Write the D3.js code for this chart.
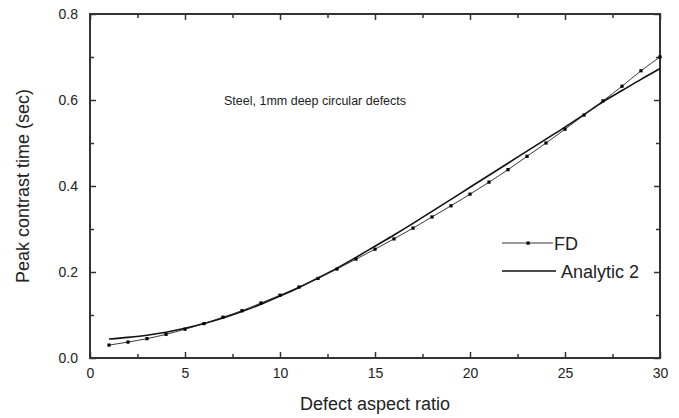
<!DOCTYPE html>
<html>
<head>
<meta charset="utf-8">
<script src="https://cdn.jsdelivr.net/npm/d3@7"></script>
<style>
  html, body { margin: 0; padding: 0; background: #fff; }
  svg { display: block; font-family: "Liberation Sans", Arial, sans-serif; }
</style>
</head>
<body>
<svg id="chart" width="679" height="418"></svg>
<script>
// Defect aspect ratios
const aspectRatio = d3.range(1, 31);
// Finite-difference peak contrast times (sec)
const fdValues = [0.030, 0.037, 0.045, 0.055, 0.067, 0.080, 0.095, 0.110, 0.128, 0.146,
                  0.165, 0.185, 0.207, 0.230, 0.253, 0.277, 0.302, 0.328, 0.354, 0.381,
                  0.409, 0.438, 0.469, 0.500, 0.532, 0.565, 0.598, 0.632, 0.668, 0.700];
// Analytic model 2 peak contrast times (sec)
const analyticValues = [0.044, 0.048, 0.053, 0.060, 0.069, 0.080, 0.093, 0.108, 0.125, 0.144,
                        0.164, 0.186, 0.209, 0.234, 0.260, 0.286, 0.313, 0.341, 0.369, 0.397,
                        0.425, 0.453, 0.481, 0.509, 0.537, 0.566, 0.596, 0.622, 0.648, 0.673];
const xMajorTicks = [0, 5, 10, 15, 20, 25, 30];
const yMajorTicks = [0.0, 0.2, 0.4, 0.6, 0.8];
const xMinorTicks = [2.5, 7.5, 12.5, 17.5, 22.5, 27.5];
const yMinorTicks = [0.1, 0.3, 0.5, 0.7];

const svg = d3.select("#chart");
const plotLeft = 90, plotRight = 660, plotTop = 14, plotBottom = 358;
const axisColor = "#333";

const x = d3.scaleLinear().domain([0, 30]).range([plotLeft, plotRight]);
const y = d3.scaleLinear().domain([0, 0.8]).range([plotBottom, plotTop]);

// Axes with inward ticks on all four sides
function styleAxis(g) {
  g.select(".domain").remove();
  g.selectAll(".tick line").attr("stroke", axisColor).attr("stroke-width", 1.5);
  g.selectAll("text").attr("fill", "#222").style("font-size", "14px");
}
const fmtX = d3.format("d"), fmtY = d3.format(".1f");

svg.append("g").attr("transform", `translate(0,${plotBottom})`)
  .call(d3.axisBottom(x).tickValues(xMajorTicks).tickFormat(fmtX).tickSizeInner(-6).tickPadding(10))
  .call(styleAxis);
svg.append("g").attr("transform", `translate(0,${plotBottom})`)
  .call(d3.axisBottom(x).tickValues(xMinorTicks).tickFormat("").tickSizeInner(-4))
  .call(styleAxis);
svg.append("g").attr("transform", `translate(0,${plotTop})`)
  .call(d3.axisTop(x).tickValues(xMajorTicks).tickFormat("").tickSizeInner(-6))
  .call(styleAxis);
svg.append("g").attr("transform", `translate(0,${plotTop})`)
  .call(d3.axisTop(x).tickValues(xMinorTicks).tickFormat("").tickSizeInner(-4))
  .call(styleAxis);

svg.append("g").attr("transform", `translate(${plotLeft},0)`)
  .call(d3.axisLeft(y).tickValues(yMajorTicks).tickFormat(fmtY).tickSizeInner(-6).tickPadding(12))
  .call(styleAxis);
svg.append("g").attr("transform", `translate(${plotLeft},0)`)
  .call(d3.axisLeft(y).tickValues(yMinorTicks).tickFormat("").tickSizeInner(-4))
  .call(styleAxis);
svg.append("g").attr("transform", `translate(${plotRight},0)`)
  .call(d3.axisRight(y).tickValues(yMajorTicks).tickFormat("").tickSizeInner(-6))
  .call(styleAxis);
svg.append("g").attr("transform", `translate(${plotRight},0)`)
  .call(d3.axisRight(y).tickValues(yMinorTicks).tickFormat("").tickSizeInner(-4))
  .call(styleAxis);

// Frame
svg.append("rect")
  .attr("x", plotLeft).attr("y", plotTop)
  .attr("width", plotRight - plotLeft).attr("height", plotBottom - plotTop)
  .attr("fill", "none").attr("stroke", axisColor).attr("stroke-width", 2);

// Curves
const plot = svg.append("g");
const line = d3.line().curve(d3.curveMonotoneX);

const analyticPts = aspectRatio.map((a, i) => [x(a), y(analyticValues[i])]);
const fdPts = aspectRatio.map((a, i) => [x(a), y(fdValues[i])]);

plot.append("path").attr("d", line(analyticPts))
  .attr("fill", "none").attr("stroke", "#111").attr("stroke-width", 1.6);
plot.append("path").attr("d", line(fdPts))
  .attr("fill", "none").attr("stroke", "#222").attr("stroke-width", 0.9);
plot.selectAll("rect.fd").data(fdPts).join("rect")
  .attr("class", "fd")
  .attr("x", d => d[0] - 1.6).attr("y", d => d[1] - 1.6)
  .attr("width", 3.2).attr("height", 3.2).attr("fill", "#000");

// Legend
const legend = svg.append("g");
legend.append("line").attr("x1", 502).attr("x2", 553).attr("y1", 243).attr("y2", 243)
  .attr("stroke", "#222").attr("stroke-width", 0.9);
legend.append("rect").attr("x", 526.5).attr("y", 241.5).attr("width", 3.2).attr("height", 3.2).attr("fill", "#000");
legend.append("text").attr("x", 554).attr("y", 249.5).text("FD")
  .attr("fill", "#222").style("font-size", "18px");
legend.append("line").attr("x1", 502).attr("x2", 556).attr("y1", 271).attr("y2", 271)
  .attr("stroke", "#111").attr("stroke-width", 1.6);
legend.append("text").attr("x", 561).attr("y", 277.5).text("Analytic 2")
  .attr("fill", "#222").style("font-size", "18px");

// Annotation
svg.append("text").attr("x", 224).attr("y", 105)
  .text("Steel, 1mm deep circular defects")
  .attr("fill", "#222").style("font-size", "12.5px");

// Axis titles
svg.append("text").attr("x", (plotLeft + plotRight) / 2).attr("y", 410)
  .attr("text-anchor", "middle").text("Defect aspect ratio")
  .attr("fill", "#222").style("font-size", "18px");
svg.append("text")
  .attr("transform", `translate(29,${(plotTop + plotBottom) / 2}) rotate(-90)`)
  .attr("text-anchor", "middle").text("Peak contrast time (sec)")
  .attr("fill", "#222").style("font-size", "18px");
</script>
</body>
</html>
